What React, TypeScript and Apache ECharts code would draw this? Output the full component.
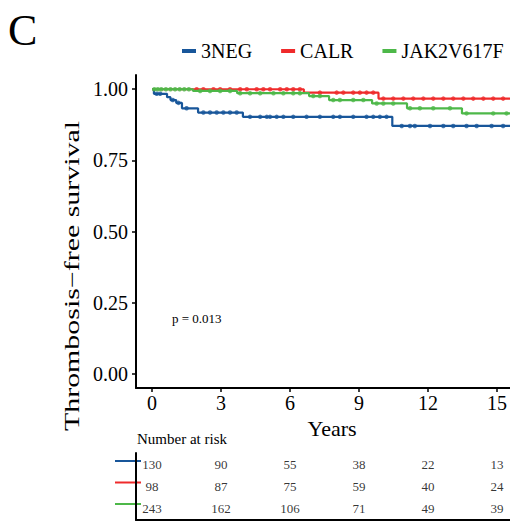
import React, { useEffect, useRef } from "react";
import * as echarts from "echarts";

const groups = ["3NEG", "CALR", "JAK2V617F"];
const colors = ["#18569a", "#ef2a2b", "#4db849"];

// Kaplan–Meier step data (years, survival)
const negTimes = [0, 0.08, 0.65, 0.8, 1.05, 1.3, 2.0, 3.95, 10.45, 15.6];
const negSurv = [1, 0.984, 0.972, 0.962, 0.952, 0.933, 0.918, 0.903, 0.871, 0.871];
const calrTimes = [0, 6.6, 9.85, 15.6];
const calrSurv = [1, 0.988, 0.967, 0.967];
const jakTimes = [0, 1.78, 3.7, 6.83, 7.7, 9.57, 11.09, 13.48, 15.6];
const jakSurv = [1, 0.994, 0.986, 0.976, 0.962, 0.95, 0.933, 0.915, 0.915];

// censoring times (years)
const negCensor = [0.2, 0.35, 0.9, 1.15, 1.5, 2.23, 2.52, 2.81, 3.1, 3.39, 3.68, 4.26, 4.7, 4.99, 5.13, 5.42, 5.71, 6.14, 6.72, 7.3, 7.88, 8.17, 8.75, 9.33, 9.62, 9.91, 10.2, 10.86, 11.22, 11.43, 12.09, 12.67, 13.1, 13.68, 14.12, 14.77, 15.27];
const calrCensor = [1.94, 2.23, 2.67, 2.96, 3.39, 3.83, 4.12, 4.55, 4.84, 5.13, 5.57, 5.86, 6.14, 6.43, 7.3, 8.03, 8.32, 8.75, 9.04, 9.33, 9.62, 10.06, 10.49, 10.93, 11.36, 11.8, 12.23, 12.67, 13.1, 13.54, 13.97, 14.41, 14.84, 15.27];
const jakCensor = [0.1, 0.25, 0.4, 0.6, 0.8, 1.0, 1.2, 1.4, 1.6, 2.09, 2.52, 2.96, 3.39, 3.83, 4.26, 4.7, 5.28, 5.71, 6.14, 6.43, 7.01, 7.3, 7.88, 8.17, 8.75, 9.19, 9.77, 10.06, 10.49, 11.22, 11.65, 12.23, 12.96, 13.68, 14.84, 15.42];

const xTicks = [0, 3, 6, 9, 12, 15];
const yTicks = [0, 0.25, 0.5, 0.75, 1];
const riskNeg = [130, 90, 55, 38, 22, 13];
const riskCalr = [98, 87, 75, 59, 40, 24];
const riskJak = [243, 162, 106, 71, 49, 39];
const pValueText = "p = 0.013";

const FONT = "Liberation Serif";

function survAt(times: number[], surv: number[], t: number) {
  let s = surv[0];
  for (let i = 0; i < times.length; i++) {
    if (times[i] <= t) s = surv[i];
  }
  return s;
}

export default function App() {
  const ref = useRef<HTMLDivElement>(null);
  useEffect(() => {
    if (!ref.current) return;
    const chart = echarts.init(ref.current, null, { renderer: "svg" });
    const curves = [
      [negTimes, negSurv, negCensor],
      [calrTimes, calrSurv, calrCensor],
      [jakTimes, jakSurv, jakCensor],
    ];
    const risks = [riskNeg, riskCalr, riskJak];
    const xMin = -0.7;
    const xMax = 15.57;

    const series: any[] = [];
    curves.forEach((c, i) => {
      const [times, surv, cens] = c as number[][];
      series.push({
        type: "line",
        name: groups[i],
        xAxisIndex: 0,
        yAxisIndex: 0,
        step: "end",
        showSymbol: false,
        symbol: "none",
        lineStyle: { color: colors[i], width: 2.2 },
        itemStyle: { color: colors[i] },
        data: times.map((t, k) => [t, surv[k]]),
        z: 2 + i,
      });
      series.push({
        type: "scatter",
        name: groups[i],
        xAxisIndex: 0,
        yAxisIndex: 0,
        symbol: "circle",
        symbolSize: 4.5,
        itemStyle: { color: colors[i] },
        data: cens.map((t) => [t, survAt(times, surv, t)]),
        z: 2 + i,
      });
    });
    risks.forEach((r, i) => {
      series.push({
        type: "scatter",
        xAxisIndex: 1,
        yAxisIndex: 1,
        symbolSize: 0,
        data: r.map((v, k) => [xTicks[k], groups[i], v]),
        label: {
          show: true,
          position: "inside",
          formatter: (p: any) => String(p.value[2]),
          fontFamily: FONT,
          fontSize: 13,
          color: "#000",
        },
      });
    });

    const axisLine = { show: true, onZero: false, lineStyle: { color: "#000", width: 2 } };

    chart.setOption({
      animation: false,
      legend: {
        data: groups.map((g) => ({ name: g, icon: "rect" })),
        left: 182,
        top: 41,
        width: 380,
        padding: 0,
        itemWidth: 14,
        itemHeight: 4,
        itemGap: 29,
        textStyle: { fontFamily: FONT, fontSize: 20, color: "#000" },
      },
      grid: [
        { left: 136, top: 75, width: 374, height: 313 },
        { left: 136, top: 453, width: 374, height: 67 },
      ],
      xAxis: [
        {
          type: "value",
          gridIndex: 0,
          min: xMin,
          max: xMax,
          name: "Years",
          nameLocation: "middle",
          nameGap: 29,
          nameTextStyle: { fontFamily: FONT, fontSize: 22, color: "#000", padding: [0, 0, 0, 18] },
          splitLine: { show: false },
          axisLine,
          axisTick: { customValues: xTicks, length: 4, lineStyle: { color: "#000", width: 1.5 } },
          axisLabel: { customValues: xTicks, margin: 5, fontFamily: FONT, fontSize: 20, color: "#000" },
        },
        {
          type: "value",
          gridIndex: 1,
          min: xMin,
          max: xMax,
          splitLine: { show: false },
          axisLine,
          axisTick: { customValues: xTicks, length: 4, lineStyle: { color: "#000", width: 1.5 } },
          axisLabel: { show: false },
        },
      ],
      yAxis: [
        {
          type: "value",
          gridIndex: 0,
          min: -0.05,
          max: 1.05,
          splitLine: { show: false },
          axisLine,
          axisTick: { show: true, customValues: yTicks, length: 4, lineStyle: { color: "#000", width: 1.5 } },
          axisLabel: {
            customValues: yTicks,
            margin: 8,
            fontFamily: FONT,
            fontSize: 20,
            color: "#000",
            formatter: (v: number) => v.toFixed(2),
          },
        },
        {
          type: "category",
          gridIndex: 1,
          data: groups,
          inverse: true,
          axisLine,
          axisTick: { show: false },
          axisLabel: { show: false },
          splitLine: { show: false },
        },
      ],
      graphic: [
        {
          type: "text",
          left: 8,
          top: 8,
          style: { text: "C", font: "44px Liberation Serif", fontFamily: FONT, fontSize: 44, fill: "#000" },
        },
        {
          type: "text",
          x: 72,
          y: 276,
          rotation: Math.PI / 2,
          scaleX: 1.36,
          scaleY: 0.95,
          style: {
            text: "Thrombosis\u2212free survival",
            font: "22px Liberation Serif",
            fontFamily: FONT,
            fontSize: 22,
            fill: "#000",
            align: "center",
            verticalAlign: "middle",
          },
        },
        {
          type: "text",
          x: 172,
          y: 318,
          style: { text: pValueText, font: "13px Liberation Serif", fontFamily: FONT, fontSize: 13, fill: "#000", verticalAlign: "middle" },
        },
        {
          type: "text",
          x: 137,
          y: 439,
          style: { text: "Number at risk", font: "15px Liberation Serif", fontFamily: FONT, fontSize: 15, fill: "#000", verticalAlign: "middle" },
        },
        ...groups.map((g, i) => ({
          type: "line",
          shape: { x1: 115, y1: 461 + i * 21.5, x2: 141, y2: 461 + i * 21.5 },
          style: { stroke: colors[i], lineWidth: 2 },
        })),
      ],
      series,
    });
    return () => chart.dispose();
  }, []);
  return (
    <div
      ref={ref}
      style={{ position: "fixed", left: 0, top: 0, width: 510, height: 524, background: "#fff" }}
    />
  );
}
